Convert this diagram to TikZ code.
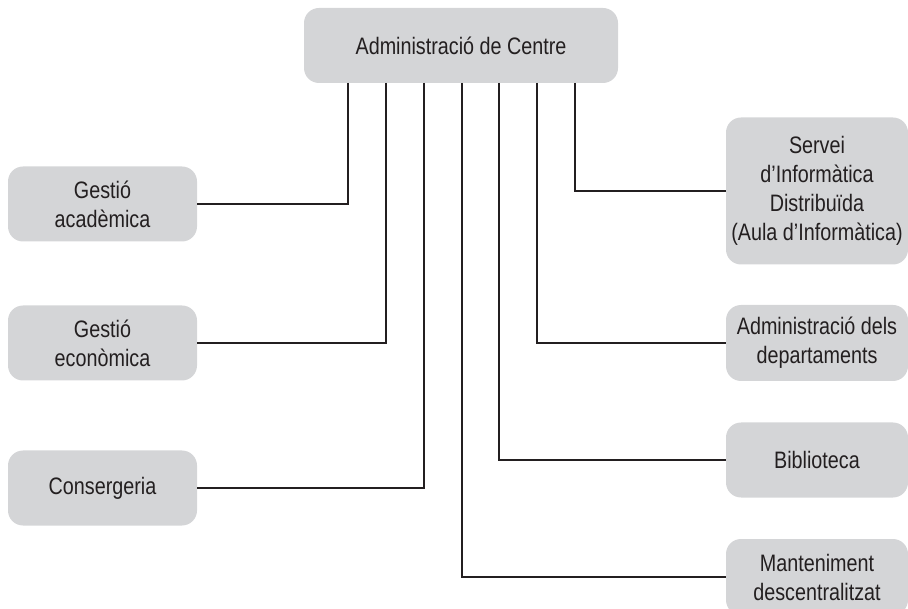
\documentclass[tikz,border=0pt]{standalone}
\usepackage{fontspec}
\setmainfont{Liberation Sans}[FakeStretch=0.83]
\definecolor{boxgray}{HTML}{D4D5D7}
\definecolor{ink}{HTML}{231F20}
\begin{document}
\begin{tikzpicture}[x=1pt,y=-1pt,
  unit/.style={fill=boxgray, rounded corners=15pt, inner sep=0pt, align=center,
    text=ink, font=\fontsize{23.8}{29}\selectfont},
  link/.style={draw=ink, line width=1.2pt}]
\useasboundingbox (0,0) rectangle (908,609);
\clip (0,0) rectangle (908,609);
% top
\node[unit, minimum width=314pt, minimum height=75pt] (top) at (461,45.5) {Administració de Centre};
% left
\node[unit, minimum width=189pt, minimum height=75pt] (ga) at (102.5,204) {Gestió\\acadèmica};
\node[unit, minimum width=189pt, minimum height=75pt] (ge) at (102.5,343) {Gestió\\econòmica};
\node[unit, minimum width=189pt, minimum height=75pt] (co) at (102.5,488) {Consergeria};
% right
\node[unit, minimum width=182pt, minimum height=147pt] (sv) at (817,191) {Servei\\d’Informàtica\\Distribuïda\\(Aula d’Informàtica)};
\node[unit, minimum width=182pt, minimum height=76pt] (ad) at (817,343) {Administració dels\\departaments};
\node[unit, minimum width=182pt, minimum height=75pt] (bi) at (817,460) {Biblioteca};
\node[unit, minimum width=182pt, minimum height=76pt] (ma) at (817,577) {Manteniment\\descentralitzat};
% drop points
\coordinate (d1) at (348,83);
\coordinate (d2) at (386,83);
\coordinate (d3) at (424,83);
\coordinate (d4) at (462,83);
\coordinate (d5) at (499,83);
\coordinate (d6) at (537,83);
\coordinate (d7) at (575,83);
\draw[link] (d1) |- (ga.east);
\draw[link] (d2) |- (ge.east);
\draw[link] (d3) |- (co.east);
\draw[link] (d4) |- (ma.west);
\draw[link] (d5) |- (bi.west);
\draw[link] (d6) |- (ad.west);
\draw[link] (d7) |- (sv.west);
\end{tikzpicture}
\end{document}
